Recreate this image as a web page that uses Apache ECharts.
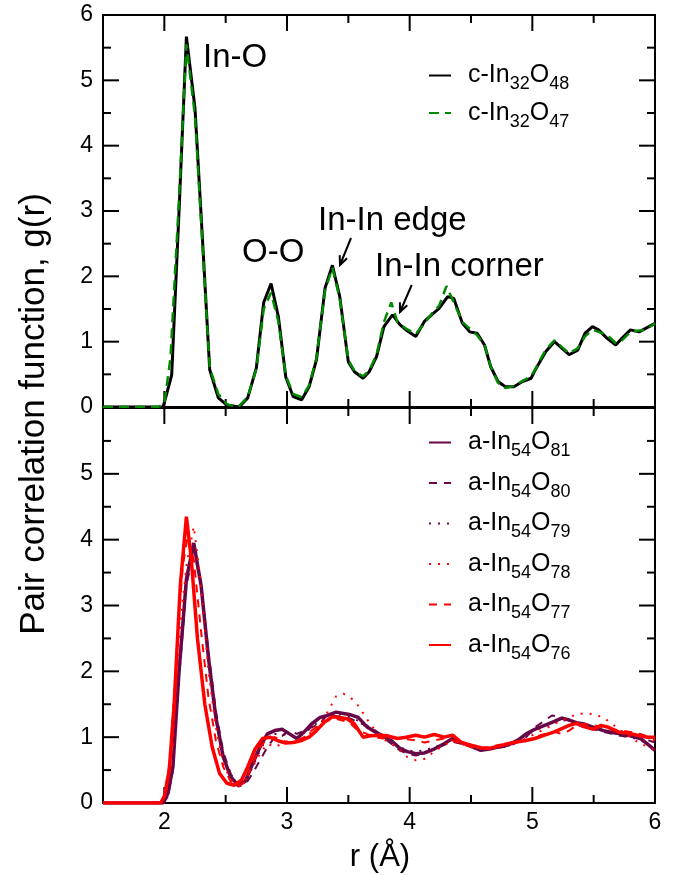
<!DOCTYPE html>
<html>
<head>
<meta charset="utf-8">
<script src="https://cdn.jsdelivr.net/npm/echarts@6/dist/echarts.min.js"></script>
<style>
  html, body { margin: 0; padding: 0; background: #fff; }
  #main { width: 677px; height: 875px; }
</style>
</head>
<body>
<div id="main"></div>
<script>
// g(r) curves as [r, g] pairs
var cIn32O48 = [[1.5,0],[1.99,0],[2.06,0.49],[2.12,3.0],[2.18,5.67],[2.25,4.57],[2.31,2.6],[2.37,0.57],[2.44,0.14],[2.51,0.03],[2.61,0],[2.68,0.14],[2.75,0.6],[2.81,1.6],[2.87,1.89],[2.93,1.38],[2.99,0.46],[3.05,0.16],[3.12,0.11],[3.18,0.31],[3.24,0.72],[3.31,1.82],[3.37,2.17],[3.43,1.69],[3.5,0.69],[3.55,0.54],[3.62,0.44],[3.67,0.54],[3.73,0.77],[3.79,1.23],[3.86,1.41],[3.92,1.26],[3.97,1.18],[4.05,1.08],[4.12,1.31],[4.19,1.43],[4.24,1.51],[4.31,1.69],[4.36,1.66],[4.43,1.28],[4.49,1.15],[4.55,1.13],[4.61,0.95],[4.66,0.62],[4.72,0.39],[4.78,0.31],[4.85,0.31],[4.92,0.39],[4.99,0.44],[5.03,0.59],[5.11,0.85],[5.18,1.0],[5.24,0.9],[5.3,0.8],[5.37,0.87],[5.43,1.13],[5.49,1.23],[5.54,1.18],[5.61,1.05],[5.68,0.95],[5.73,1.05],[5.8,1.18],[5.87,1.15],[5.92,1.2],[6.0,1.28]];
var cIn32O47 = [[1.5,0],[1.95,0],[2.0,0.05],[2.05,0.75],[2.12,3.2],[2.18,5.55],[2.25,4.45],[2.31,2.5],[2.37,0.6],[2.44,0.2],[2.51,0.04],[2.6,0],[2.68,0.15],[2.75,0.58],[2.81,1.5],[2.87,1.75],[2.93,1.3],[2.99,0.48],[3.05,0.2],[3.12,0.15],[3.18,0.33],[3.24,0.75],[3.31,1.78],[3.37,2.13],[3.43,1.66],[3.5,0.72],[3.55,0.55],[3.62,0.47],[3.67,0.56],[3.73,0.8],[3.79,1.3],[3.85,1.6],[3.9,1.3],[3.97,1.2],[4.05,1.12],[4.12,1.28],[4.19,1.45],[4.24,1.55],[4.3,1.85],[4.36,1.6],[4.43,1.3],[4.49,1.2],[4.55,1.1],[4.61,0.95],[4.66,0.63],[4.72,0.37],[4.78,0.29],[4.85,0.32],[4.92,0.4],[4.99,0.47],[5.03,0.6],[5.11,0.88],[5.18,1.02],[5.24,0.92],[5.3,0.82],[5.37,0.9],[5.43,1.08],[5.49,1.18],[5.54,1.15],[5.61,1.1],[5.68,0.98],[5.73,1.02],[5.8,1.15],[5.87,1.17],[5.92,1.18],[6.0,1.28]];

var aIn54O81 = [[1.5,0],[1.99,0],[2.03,0.15],[2.07,0.55],[2.12,2.0],[2.18,3.4],[2.24,3.95],[2.3,3.3],[2.36,2.2],[2.42,1.3],[2.48,0.7],[2.54,0.4],[2.6,0.27],[2.66,0.33],[2.72,0.6],[2.78,0.85],[2.84,1.05],[2.9,1.1],[2.96,1.12],[3.02,1.05],[3.08,0.98],[3.14,1.08],[3.2,1.2],[3.27,1.3],[3.33,1.33],[3.4,1.38],[3.46,1.36],[3.52,1.34],[3.58,1.3],[3.65,1.16],[3.72,1.08],[3.78,1.02],[3.85,0.95],[3.92,0.83],[3.98,0.78],[4.05,0.75],[4.12,0.76],[4.2,0.82],[4.28,0.9],[4.35,0.98],[4.42,0.92],[4.5,0.86],[4.58,0.8],[4.65,0.82],[4.72,0.85],[4.8,0.88],[4.88,0.95],[4.95,1.05],[5.02,1.12],[5.1,1.18],[5.18,1.24],[5.24,1.29],[5.3,1.26],[5.36,1.22],[5.42,1.2],[5.5,1.15],[5.58,1.1],[5.65,1.07],[5.72,1.05],[5.8,1.02],[5.88,0.98],[5.95,0.88],[6.0,0.8]];
var aIn54O80 = [[1.5,0],[1.99,0],[2.03,0.1],[2.07,0.5],[2.12,1.9],[2.18,3.3],[2.24,3.85],[2.3,3.3],[2.36,2.3],[2.42,1.4],[2.48,0.78],[2.54,0.45],[2.6,0.25],[2.66,0.28],[2.72,0.45],[2.78,0.65],[2.84,0.85],[2.9,1.0],[2.96,1.02],[3.02,1.1],[3.08,1.05],[3.14,1.1],[3.2,1.15],[3.27,1.2],[3.33,1.35],[3.4,1.32],[3.46,1.3],[3.52,1.28],[3.58,1.22],[3.65,1.18],[3.72,1.1],[3.78,1.0],[3.85,0.9],[3.92,0.8],[3.98,0.75],[4.05,0.72],[4.12,0.75],[4.2,0.82],[4.28,0.88],[4.35,0.93],[4.42,0.9],[4.5,0.86],[4.58,0.82],[4.65,0.82],[4.72,0.84],[4.8,0.86],[4.88,0.92],[4.95,1.0],[5.02,1.15],[5.1,1.25],[5.16,1.33],[5.24,1.3],[5.3,1.25],[5.36,1.2],[5.42,1.15],[5.5,1.12],[5.58,1.08],[5.65,1.05],[5.72,1.02],[5.8,1.0],[5.88,0.98],[5.95,0.95],[6.0,0.92]];
var aIn54O79 = [[1.5,0],[1.99,0],[2.03,0.12],[2.07,0.5],[2.12,1.95],[2.18,3.35],[2.24,3.9],[2.3,3.35],[2.36,2.25],[2.42,1.35],[2.48,0.72],[2.54,0.42],[2.6,0.28],[2.66,0.32],[2.72,0.55],[2.78,0.8],[2.84,1.0],[2.9,1.05],[2.96,1.05],[3.02,1.02],[3.08,1.0],[3.14,1.05],[3.2,1.15],[3.27,1.25],[3.33,1.32],[3.4,1.35],[3.46,1.34],[3.52,1.3],[3.58,1.25],[3.65,1.15],[3.72,1.08],[3.78,1.0],[3.85,0.92],[3.92,0.85],[3.98,0.8],[4.05,0.78],[4.12,0.8],[4.2,0.85],[4.28,0.9],[4.35,0.95],[4.42,0.9],[4.5,0.85],[4.58,0.82],[4.65,0.83],[4.72,0.86],[4.8,0.9],[4.88,0.96],[4.95,1.03],[5.02,1.1],[5.1,1.16],[5.18,1.22],[5.24,1.26],[5.3,1.25],[5.36,1.22],[5.42,1.18],[5.5,1.14],[5.58,1.1],[5.65,1.06],[5.72,1.04],[5.8,1.0],[5.88,0.96],[5.95,0.88],[6.0,0.82]];
var aIn54O78 = [[1.5,0],[1.97,0],[2.02,0.2],[2.07,0.9],[2.12,2.5],[2.18,3.6],[2.24,4.2],[2.3,3.3],[2.36,2.0],[2.42,1.15],[2.48,0.6],[2.54,0.35],[2.6,0.27],[2.66,0.35],[2.72,0.55],[2.78,0.75],[2.84,0.9],[2.9,0.85],[2.96,0.9],[3.02,0.95],[3.08,0.92],[3.14,0.98],[3.2,1.08],[3.27,1.2],[3.33,1.38],[3.4,1.62],[3.46,1.66],[3.52,1.6],[3.58,1.48],[3.65,1.28],[3.72,1.1],[3.78,0.98],[3.85,0.9],[3.92,0.8],[3.98,0.7],[4.05,0.65],[4.12,0.67],[4.2,0.78],[4.28,0.88],[4.35,0.95],[4.42,0.9],[4.5,0.86],[4.58,0.83],[4.65,0.84],[4.72,0.86],[4.8,0.9],[4.88,0.93],[4.95,0.98],[5.02,1.05],[5.1,1.12],[5.18,1.2],[5.24,1.25],[5.3,1.3],[5.36,1.35],[5.42,1.36],[5.5,1.35],[5.58,1.3],[5.65,1.2],[5.72,1.1],[5.8,1.0],[5.88,0.9],[5.95,0.85],[6.0,0.8]];
var aIn54O77 = [[1.5,0],[1.96,0],[2.0,0.1],[2.05,0.7],[2.1,2.3],[2.15,3.6],[2.19,4.05],[2.24,3.7],[2.3,2.6],[2.36,1.6],[2.42,0.95],[2.48,0.55],[2.54,0.33],[2.6,0.25],[2.66,0.32],[2.72,0.6],[2.78,0.85],[2.84,0.98],[2.9,1.0],[2.96,0.95],[3.02,0.92],[3.08,0.95],[3.14,1.0],[3.2,1.1],[3.27,1.2],[3.33,1.25],[3.4,1.28],[3.46,1.25],[3.52,1.2],[3.58,1.1],[3.65,1.05],[3.72,1.0],[3.78,0.98],[3.85,1.0],[3.92,0.98],[3.98,0.97],[4.05,0.95],[4.12,0.92],[4.2,0.95],[4.28,0.98],[4.35,0.95],[4.42,0.9],[4.5,0.85],[4.58,0.83],[4.65,0.85],[4.72,0.88],[4.8,0.9],[4.88,0.92],[4.95,0.95],[5.02,1.0],[5.1,1.05],[5.18,1.08],[5.24,1.05],[5.3,1.1],[5.36,1.18],[5.42,1.2],[5.5,1.18],[5.58,1.15],[5.65,1.12],[5.72,1.1],[5.8,1.08],[5.88,1.05],[5.95,1.0],[6.0,0.95]];
var aIn54O76 = [[1.5,0],[1.97,0],[2.0,0.1],[2.04,0.5],[2.08,1.5],[2.13,3.3],[2.18,4.35],[2.22,3.7],[2.27,2.5],[2.33,1.5],[2.39,0.85],[2.45,0.45],[2.51,0.3],[2.57,0.27],[2.63,0.35],[2.68,0.55],[2.74,0.82],[2.8,0.98],[2.86,1.0],[2.92,0.95],[2.99,0.91],[3.05,0.92],[3.12,0.95],[3.18,1.0],[3.24,1.1],[3.3,1.22],[3.37,1.31],[3.43,1.3],[3.49,1.28],[3.55,1.2],[3.62,1.0],[3.68,1.02],[3.75,1.03],[3.82,1.02],[3.9,0.98],[3.97,1.0],[4.05,1.03],[4.12,1.0],[4.2,1.04],[4.28,1.0],[4.35,1.03],[4.42,0.92],[4.5,0.88],[4.58,0.84],[4.65,0.83],[4.72,0.86],[4.8,0.9],[4.88,0.93],[4.95,0.95],[5.02,0.98],[5.1,1.03],[5.18,1.08],[5.24,1.13],[5.3,1.18],[5.36,1.21],[5.42,1.16],[5.5,1.12],[5.56,1.18],[5.62,1.15],[5.7,1.08],[5.78,1.06],[5.86,1.03],[5.94,1.0],[6.0,1.0]];

// tick positions (frame ticks on all four sides of both panels)
var xMajor = [2, 3, 4, 5, 6];
var xMinor = [2.5, 3.5, 4.5, 5.5];
var yMajor = [1, 2, 3, 4, 5];
var yMinor = [0.5, 1.5, 2.5, 3.5, 4.5, 5.5];

var FONT = 'Liberation Sans, Arial, Helvetica, sans-serif';
var maroon = '#670748';

var myChart = echarts.init(document.getElementById('main'));

function xAxes(g, labels) {
  return ['bottom', 'top'].map(function (pos) {
    return {
      type: 'value', gridIndex: g, position: pos, min: 1.5, max: 6, interval: 0.5,
      splitLine: { show: false },
      axisLine: { show: true, onZero: false, lineStyle: { color: '#000', width: 2 } },
      axisTick: { show: false },
      axisLabel: {
        show: labels && pos === 'bottom', margin: 8, color: '#000', fontSize: 23, fontFamily: FONT,
        formatter: function (v) { return v % 1 === 0 ? String(v) : ''; }
      }
    };
  });
}

function yAxes(g, hideTop) {
  return ['left', 'right'].map(function (pos) {
    return {
      type: 'value', gridIndex: g, position: pos, min: 0, max: 6, interval: 1,
      splitLine: { show: false },
      axisLine: { show: true, onZero: false, lineStyle: { color: '#000', width: 2 } },
      axisTick: { show: false },
      axisLabel: {
        show: pos === 'left', margin: 10, color: '#000', fontSize: 23, fontFamily: FONT,
        formatter: function (v) { return hideTop && v === 6 ? '' : String(v); }
      }
    };
  });
}

function legendName(name) {
  var m = name.match(/^(.*In)(\d+)O(\d+)$/);
  return '{n|' + m[1] + '}{s|' + m[2] + '}{n|O}{s|' + m[3] + '}';
}

var legendText = {
  color: '#000', fontSize: 25, fontFamily: FONT, padding: [0, 0, 0, 12],
  rich: {
    n: { fontSize: 25, fontFamily: FONT, color: '#000', lineHeight: 36 },
    s: { fontSize: 18, fontFamily: FONT, color: '#000', lineHeight: 10, verticalAlign: 'bottom' }
  }
};

function line(name, data, g, color, width, type) {
  return {
    name: name, type: 'line', data: data, xAxisIndex: g * 2, yAxisIndex: g * 2,
    symbol: 'none', smooth: false,
    lineStyle: { color: color, width: width, type: type || 'solid' },
    itemStyle: { color: color }
  };
}

function arrow(x1, y1, x2, y2) {
  var dx = x2 - x1, dy = y2 - y1, len = Math.sqrt(dx * dx + dy * dy);
  var ux = dx / len, uy = dy / len, bx = x2 - 9 * ux, by = y2 - 9 * uy;
  return [
    { type: 'line', shape: { x1: x1, y1: y1, x2: x2, y2: y2 }, style: { stroke: '#000', lineWidth: 2 } },
    { type: 'polyline', shape: { points: [[bx - 4 * uy, by + 4 * ux], [x2, y2], [bx + 4 * uy, by - 4 * ux]] },
      style: { stroke: '#000', lineWidth: 2, fill: 'none' } }
  ];
}

function label(text, x, y) {
  return { type: 'text', x: x, y: y, style: { text: text, font: '33px ' + FONT, fill: '#000', textVerticalAlign: 'middle' } };
}

option = {
  animation: false,
  grid: [
    { left: 103, right: 22, top: 15, height: 392 },
    { left: 103, right: 22, top: 408, height: 395 }
  ],
  xAxis: xAxes(0, false).concat(xAxes(1, true)),
  yAxis: yAxes(0, false).concat(yAxes(1, true)),
  legend: [
    {
      left: 428, top: 63, orient: 'vertical', padding: 0, itemGap: 7, itemWidth: 22, itemHeight: 14,
      selectedMode: false, itemStyle: { opacity: 0 }, data: ['c-In32O48', 'c-In32O47'],
      formatter: legendName, textStyle: legendText
    },
    {
      left: 428, top: 430, orient: 'vertical', padding: 0, itemGap: 10, itemWidth: 22, itemHeight: 14,
      selectedMode: false, itemStyle: { opacity: 0 },
      data: ['a-In54O81', 'a-In54O80', 'a-In54O79', 'a-In54O78', 'a-In54O77', 'a-In54O76'],
      formatter: legendName, textStyle: legendText
    }
  ],
  series: [
    line('c-In32O48', cIn32O48, 0, '#000', 3),
    line('c-In32O47', cIn32O47, 0, '#008b00', 2.5, [10, 6]),
    line('a-In54O81', aIn54O81, 1, maroon, 3.5),
    line('a-In54O80', aIn54O80, 1, maroon, 2, [8, 7]),
    line('a-In54O79', aIn54O79, 1, maroon, 2, [2, 7]),
    line('a-In54O78', aIn54O78, 1, '#ff0000', 2, [2, 7]),
    line('a-In54O77', aIn54O77, 1, '#ff0000', 2, [8, 7]),
    line('a-In54O76', aIn54O76, 1, '#ff0000', 3.5)
  ]
};

myChart.setOption(option);

// inward frame ticks, placed through the axes' own scales
function tickMarks() {
  var out = [];
  function seg(g, v, dx, dy) {
    var p = myChart.convertToPixel({ xAxisIndex: g * 2, yAxisIndex: g * 2 }, v);
    out.push({ type: 'line', shape: { x1: p[0], y1: p[1], x2: p[0] + dx, y2: p[1] + dy },
               style: { stroke: '#000', lineWidth: 2 } });
  }
  [0, 1].forEach(function (g) {
    xMajor.forEach(function (v) { seg(g, [v, 0], 0, -16); seg(g, [v, 6], 0, 16); });
    xMinor.forEach(function (v) { seg(g, [v, 0], 0, -8); seg(g, [v, 6], 0, 8); });
    yMajor.forEach(function (v) { seg(g, [1.5, v], 16, 0); seg(g, [6, v], -16, 0); });
    yMinor.forEach(function (v) { seg(g, [1.5, v], 8, 0); seg(g, [6, v], -8, 0); });
  });
  return out;
}

myChart.setOption({
  graphic: [
    label('In-O', 203, 58),
    label('O-O', 242, 253),
    label('In-In edge', 318, 221),
    label('In-In corner', 375, 267),
    { type: 'text', x: 34, y: 414, rotation: Math.PI / 2,
      style: { text: 'Pair correlation function, g(r)', font: '35px ' + FONT, fill: '#000',
               textAlign: 'center', textVerticalAlign: 'middle' } },
    { type: 'text', x: 380, y: 857,
      style: { text: 'r (Å)', font: '31px ' + FONT, fill: '#000', textAlign: 'center', textVerticalAlign: 'middle' } }
  ].concat(arrow(351, 238, 340, 265), arrow(411.7, 285, 400, 312), tickMarks())
});
</script>
</body>
</html>
